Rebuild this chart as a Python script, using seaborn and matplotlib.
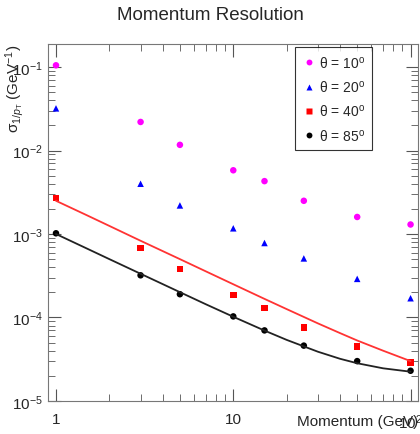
import numpy as np
import pandas as pd
import matplotlib
matplotlib.use("Agg")
import matplotlib.pyplot as plt
import matplotlib.ticker as mticker
import seaborn as sns

# momentum points (GeV)
momentum = [1, 3, 5, 10, 15, 25, 50, 100]

# resolution per polar angle
res_10 = [0.105, 0.022, 0.0117, 0.0058, 0.0043, 0.0025, 0.0016, 0.0013]
res_20 = [0.032, 0.0040, 0.0022, 0.00117, 0.00078, 0.00051, 0.00029, 0.00017]
res_40 = [0.0027, 0.00068, 0.00038, 0.000187, 0.00013, 0.000076, 0.000045, 0.000029]
res_85 = [0.00102, 0.00032, 0.00019, 0.000103, 0.000070, 0.000046, 0.000030, 0.000023]

# fitted curves
curve_p = [1, 1.5, 2, 3, 5, 7, 10, 15, 20, 30, 40, 50, 70, 100]
curve_40 = [0.0025, 0.00167, 0.00125, 0.00083, 0.0005, 0.000357, 0.00025,
            0.000167, 0.000126, 0.000085, 0.000065, 0.000053, 0.00004, 0.00003]
curve_85 = [0.001, 0.000667, 0.0005, 0.000334, 0.000201, 0.000144, 0.000102,
            0.0000697, 0.0000539, 0.0000389, 0.000032, 0.0000283, 0.0000246, 0.0000224]

labels = ["θ = 10$^{\\mathrm{o}}$", "θ = 20$^{\\mathrm{o}}$",
          "θ = 40$^{\\mathrm{o}}$", "θ = 85$^{\\mathrm{o}}$"]
colors = ["#ff00ff", "#0000ff", "#ff0000", "#000000"]
markers = ["o", "^", "s", "o"]

pts = pd.concat([
    pd.DataFrame({"p": momentum, "sigma": r, "angle": lab})
    for r, lab in zip([res_10, res_20, res_40, res_85], labels)
])
fits = pd.concat([
    pd.DataFrame({"p": curve_p, "sigma": curve_40, "fit": "40"}),
    pd.DataFrame({"p": curve_p, "sigma": curve_85, "fit": "85"}),
])

sns.set_style("ticks")
plt.rcParams["font.family"] = ["Liberation Sans", "DejaVu Sans"]
plt.rcParams["mathtext.fontset"] = "custom"
plt.rcParams["mathtext.rm"] = "Liberation Sans"
plt.rcParams["mathtext.it"] = "Liberation Sans:italic"

fig = plt.figure(figsize=(4.2, 4.35), dpi=100)
ax = fig.add_axes([0.114, 0.076, 0.881, 0.821])

sns.lineplot(data=fits, x="p", y="sigma", hue="fit", palette=["#ff3333", "#222222"],
             linewidth=1.3, legend=False, ax=ax)
sns.scatterplot(data=pts, x="p", y="sigma", hue="angle", style="angle",
                palette=colors, markers=markers, s=22, edgecolor="none", ax=ax)

ax.set_xscale("log")
ax.set_yscale("log")
ax.set_xlim(0.9, 110)
ax.set_ylim(1e-5, 0.19)

ax.xaxis.set_major_locator(mticker.FixedLocator([1, 10, 100]))
ax.xaxis.set_major_formatter(mticker.FixedFormatter(["1", "10", r"10$^{2}$"]))
ax.xaxis.set_minor_locator(mticker.LogLocator(base=10, subs=np.arange(2, 10)))
ax.xaxis.set_minor_formatter(mticker.NullFormatter())
ax.yaxis.set_major_locator(mticker.LogLocator(base=10))
ax.yaxis.set_minor_locator(mticker.LogLocator(base=10, subs=np.arange(2, 10)))
ax.yaxis.set_minor_formatter(mticker.NullFormatter())

ax.tick_params(which="both", direction="in", top=True, right=True, labelsize=11,
               color="#555555")
ax.tick_params(which="major", length=9)
ax.tick_params(which="minor", length=5)
ax.tick_params(axis="x", which="major", pad=8)
for s in ax.spines.values():
    s.set_color("#777777")

ax.set_xlabel("Momentum (GeV)", fontsize=11, loc="right")
ax.xaxis.set_label_coords(1.0, -0.036)
ax.set_ylabel("σ$_{1/p_{\\mathrm{T}}}$ (GeV$^{\\mathrm{-1}}$)", fontsize=11,
              loc="top")
ax.yaxis.set_label_coords(-0.058, 1.0)
fig.suptitle("Momentum Resolution", fontsize=13.5, y=0.985)

leg = ax.legend(loc="upper right", bbox_to_anchor=(0.875, 0.99), frameon=True,
                fancybox=False, edgecolor="black", fontsize=10, handletextpad=0.2,
                borderpad=0.5, labelspacing=0.6, handlelength=1.0, markerscale=0.9,
                borderaxespad=0)
leg.get_frame().set_linewidth(0.8)

fig.savefig("out.png", dpi=100)
